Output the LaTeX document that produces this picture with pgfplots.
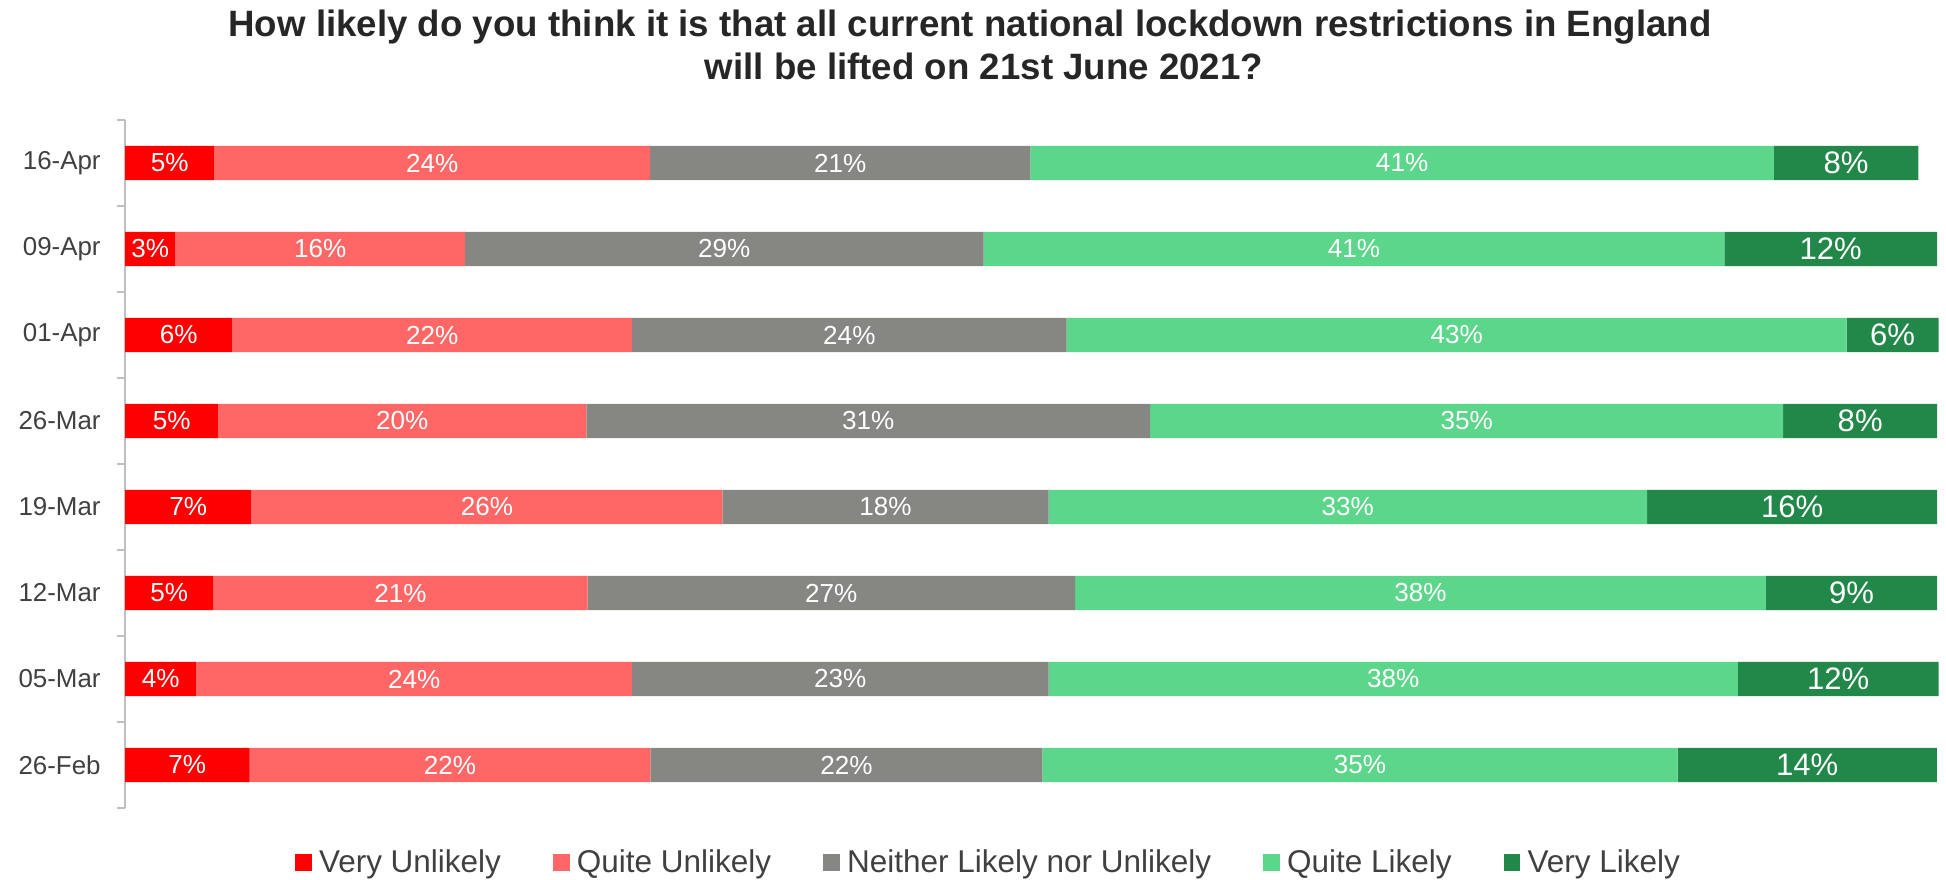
\documentclass[border=0pt]{standalone}
\usepackage{fontspec}
\setmainfont{Liberation Sans}
\usepackage{pgfplots}
\usepackage{pgfplotstable}
\pgfplotsset{compat=1.18}

\definecolor{cvu}{HTML}{FF0000}
\definecolor{cqu}{HTML}{FF6666}
\definecolor{cne}{HTML}{868783}
\definecolor{cql}{HTML}{5CD68A}
\definecolor{cvl}{HTML}{228849}
\definecolor{axisgray}{HTML}{BFBFBF}
\definecolor{labelgray}{HTML}{404040}
\definecolor{titlegray}{HTML}{262626}

% rows: 0=26-Feb ... 7=16-Apr ; w = bar length (%), lab = printed label
\pgfplotstableread{
y w lab
0 6.88 7
1 3.94 4
2 4.87 5
3 6.98 7
4 5.15 5
5 5.92 6
6 2.78 3
7 4.93 5
}\tvu
\pgfplotstableread{
y w lab
0 22.12 22
1 24.04 24
2 20.66 21
3 25.99 26
4 20.31 20
5 22.06 22
6 15.99 16
7 24.05 24
}\tqu
\pgfplotstableread{
y w lab
0 21.63 22
1 22.99 23
2 26.90 27
3 18.00 18
4 31.12 31
5 23.99 24
6 28.61 29
7 20.98 21
}\tne
\pgfplotstableread{
y w lab
0 35.06 35
1 38.04 38
2 38.13 38
3 33.03 33
4 34.93 35
5 43.04 43
6 40.88 41
7 41.04 41
}\tql
\pgfplotstableread{
y w lab
0 14.30 14
1 11.08 12
2 9.44 9
3 16.01 16
4 8.50 8
5 5.08 6
6 11.74 12
7 7.97 8
}\tvl

\begin{document}
\begin{tikzpicture}
\path[use as bounding box] (0,0) rectangle (973bp,440bp);
\node[anchor=base, font=\bfseries\fontsize{18.4}{21}\selectfont, text=titlegray] at (485bp,421.65bp) {How likely do you think it is that all current national lockdown restrictions in England};
\node[anchor=base, font=\bfseries\fontsize{18.4}{21}\selectfont, text=titlegray] at (492bp,400bp) {will be lifted on 21st June 2021?};
\begin{axis}[
  at={(62.5bp,36bp)}, anchor=south west,
  scale only axis, width=906bp, height=344bp,
  xbar stacked, bar width=17.15bp,
  xmin=0, xmax=100, ymin=-0.5, ymax=7.5,
  clip=false,
  hide x axis,
  axis y line*=left,
  y axis line style={color=axisgray, line width=0.75bp},
  ytick={0,...,7},
  yticklabels={26-Feb,05-Mar,12-Mar,19-Mar,26-Mar,01-Apr,09-Apr,16-Apr},
  minor ytick={-0.5,0.5,...,7.5},
  major tick length=0pt, minor tick length=4bp,
  tick align=outside,
  tick style={color=axisgray, line width=0.75bp},
  yticklabel style={font=\fontsize{13}{15}\selectfont, text=labelgray, inner sep=0pt, xshift=-12bp},
  point meta=explicit symbolic,
  nodes near coords={\pgfplotspointmeta\%},
  every node near coord/.append style={anchor=center, text=white, inner sep=0pt, font=\fontsize{13.1}{15}\selectfont},
  legend style={at={(0.478,-0.0788)}, anchor=center, draw=none, fill=none, legend columns=5,
    font=\fontsize{15.8}{19}\selectfont, text=labelgray,
    nodes={inner xsep=3.7bp, inner ysep=1bp},
    /tikz/every even column/.append style={column sep=22.3bp}},
  legend image code/.code={\fill[#1, draw=none] (0bp,-4.2bp) rectangle (8.3bp,4.2bp);},
]
\addplot[fill=cvu, draw=none] table[x=w, y=y, meta=lab] {\tvu};
\addlegendentry{Very Unlikely}
\addplot[fill=cqu, draw=none] table[x=w, y=y, meta=lab] {\tqu};
\addlegendentry{Quite Unlikely}
\addplot[fill=cne, draw=none] table[x=w, y=y, meta=lab] {\tne};
\addlegendentry{Neither Likely nor Unlikely}
\addplot[fill=cql, draw=none] table[x=w, y=y, meta=lab] {\tql};
\addlegendentry{Quite Likely}
\addplot[fill=cvl, draw=none,
  every node near coord/.append style={font=\fontsize{15.6}{18}\selectfont}] table[x=w, y=y, meta=lab] {\tvl};
\addlegendentry{Very Likely}
\end{axis}
\end{tikzpicture}
\end{document}
